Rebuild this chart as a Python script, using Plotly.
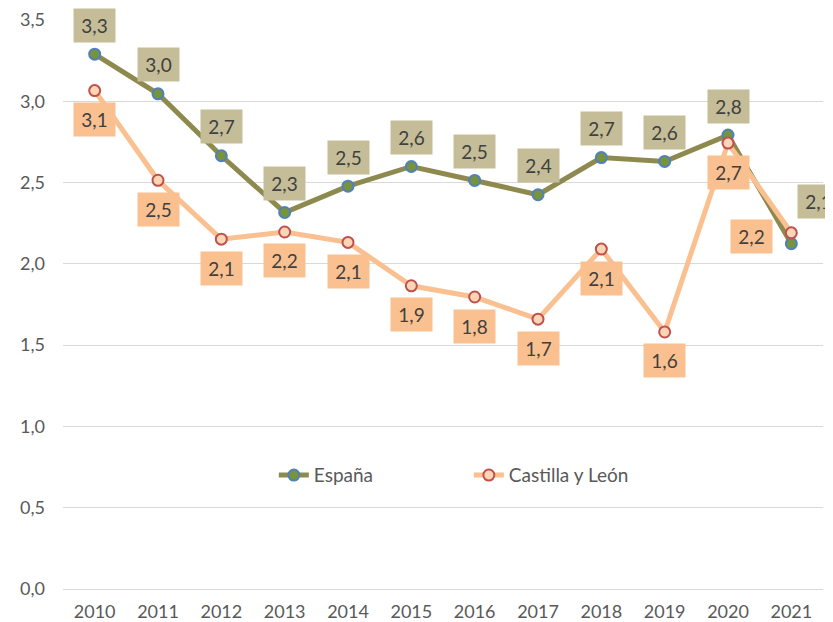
import plotly.graph_objects as go

years = [2010, 2011, 2012, 2013, 2014, 2015, 2016, 2017, 2018, 2019, 2020, 2021]
espana = [3.29, 3.046, 2.665, 2.316, 2.478, 2.599, 2.513, 2.425, 2.654, 2.630, 2.792, 2.124]
cyl = [3.066, 2.514, 2.152, 2.196, 2.132, 1.865, 1.796, 1.660, 2.091, 1.581, 2.743, 2.191]
espana_labels = ["3,3", "3,0", "2,7", "2,3", "2,5", "2,6", "2,5", "2,4", "2,7", "2,6", "2,8", "2,1"]
cyl_labels = ["3,1", "2,5", "2,1", "2,2", "2,1", "1,9", "1,8", "1,7", "2,1", "1,6", "2,7", "2,2"]
y_ticks = [0, 0.5, 1.0, 1.5, 2.0, 2.5, 3.0, 3.5]
y_tick_text = ["0,0", "0,5", "1,0", "1,5", "2,0", "2,5", "3,0", "3,5"]

FONT = "Lato, Open Sans, sans-serif"
OLIVE = "#8E8A4F"
PEACH = "#FAC090"
TXT = "#595959"

fig = go.Figure()
fig.add_trace(go.Scatter(
    x=years, y=espana, name="España", mode="lines+markers",
    line=dict(color=OLIVE, width=5),
    marker=dict(size=11, color="#77933C", line=dict(color="#4F81BD", width=2)),
))
fig.add_trace(go.Scatter(
    x=years, y=cyl, name="Castilla y León", mode="lines+markers",
    line=dict(color=PEACH, width=5),
    marker=dict(size=11, color="#FCD5B5", line=dict(color="#C0504D", width=2)),
))

# label offsets (pixels, +down) per point
esp_off = [(0, -29)] * 12
esp_off[11] = (27, -42)
cyl_off = [(0, 29)] * 12
cyl_off[11] = (-40, 4)

annotations = []
for series, labels, offs, col in ((espana, espana_labels, esp_off, "#C4BD97"),
                                  (cyl, cyl_labels, cyl_off, PEACH)):
    for yr, v, lab, (dx, dy) in zip(years, series, labels, offs):
        annotations.append(dict(
            x=yr, y=v, text=lab, showarrow=False, xshift=dx, yshift=-dy,
            bgcolor=col, borderpad=6, width=29, height=21,
            font=dict(family=FONT, size=19, color="#404040"),
        ))

fig.update_layout(
    width=825, height=614,
    margin=dict(l=55, r=10, t=12, b=33),
    paper_bgcolor="white", plot_bgcolor="white",
    font=dict(family=FONT, size=18, color=TXT),
    showlegend=True,
    legend=dict(orientation="h", x=0.534, xanchor="center", y=0.2, yanchor="middle",
                font=dict(size=19, color=TXT), entrywidth=150,
                bgcolor="rgba(0,0,0,0)"),
    annotations=annotations,
)
fig.update_xaxes(
    range=[2009.5, 2021.5], tickvals=years, ticktext=[str(y) for y in years],
    showgrid=False, showline=True, linecolor="#D9D9D9", automargin=False,
    ticks="", ticklabelstandoff=6, tickfont=dict(size=18, color=TXT),
)
fig.update_yaxes(
    range=[0, 3.5], tickvals=y_ticks, ticktext=y_tick_text,
    showgrid=True, gridcolor="#D9D9D9", gridwidth=1, automargin=False,
    zeroline=False, showline=False, ticks="",
    ticklabelstandoff=17, tickfont=dict(size=18, color=TXT),
)

fig.write_html("out.html")
